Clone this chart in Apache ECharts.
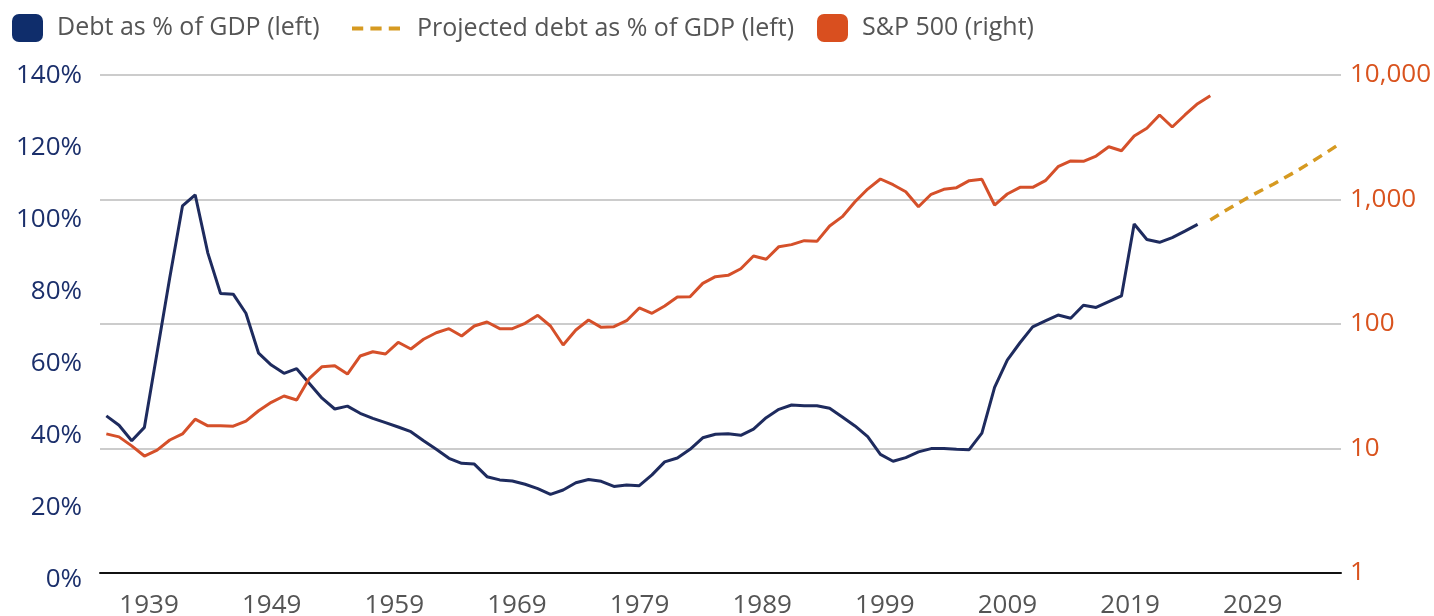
<!DOCTYPE html>
<html>
<head>
<meta charset="utf-8">
<script src="https://cdn.jsdelivr.net/npm/echarts@6/dist/echarts.min.js"></script>
<style>
  html, body { margin: 0; padding: 0; background: #fff; }
  #chart { width: 1434px; height: 616px; }
</style>
</head>
<body>
<div id="chart"></div>
<script>
// debt held by public, % of GDP (left axis), one value per year from 1939
var debtStart = 1939;
var debtVals = [
  45.6, 43.0, 38.7, 42.4, 63.2, 84.0, 103.9, 107.0, 90.8, 79.6,
  79.4, 74.1, 63.0, 59.7, 57.4, 58.7, 54.6, 50.5, 47.5, 48.3,
  46.3, 44.9, 43.7, 42.5, 41.2, 38.7, 36.3, 33.8, 32.4, 32.2,
  28.7, 27.8, 27.5, 26.6, 25.4, 23.8, 25.0, 27.0, 27.9, 27.4,
  26.0, 26.4, 26.2, 29.2, 32.8, 33.9, 36.3, 39.5, 40.5, 40.6,
  40.2, 41.9, 45.1, 47.4, 48.6, 48.4, 48.4, 47.7, 45.3, 42.8,
  39.8, 34.9, 33.0, 34.0, 35.6, 36.5, 36.5, 36.3, 36.2, 40.8,
  53.5, 61.1, 65.9, 70.3, 72.0, 73.6, 72.7, 76.3, 75.7, 77.3,
  78.9, 98.9, 94.6, 93.8, 95.1, 96.9, 98.8
];
// projected debt, % of GDP, from 2026
var projStart = 2026;
var projVals = [100.0, 102.2, 104.3, 106.3, 108.2, 110.0, 112.0, 114.0, 116.2, 118.4, 120.7];
// S&P 500 level (right, log axis), from 1939
var spxStart = 1939;
var spxVals = [
  13.1, 12.4, 10.5, 8.7, 9.7, 11.7, 13.1, 17.2, 15.2, 15.2,
  15.1, 16.6, 20.1, 23.5, 26.4, 24.5, 36.6, 45.4, 46.3, 39.6,
  55.3, 59.9, 57.4, 71.3, 63.0, 75.4, 85.1, 91.7, 80.1, 96.4,
  103.8, 91.7, 91.7, 101.2, 117.4, 96.4, 67.8, 89.5, 107.7, 94.0,
  95.2, 106.3, 134.5, 121.9, 139.6, 164.9, 165.7, 212, 240, 246,
  278, 352, 331, 418, 434, 467, 461, 612, 728, 960,
  1213, 1461, 1315, 1155, 875, 1101, 1208, 1245, 1417, 1453,
  903, 1107, 1253, 1253, 1417, 1835, 2039, 2026, 2235, 2655,
  2466, 3236, 3733, 4775, 3822, 4775, 5885, 6823
];
var yearTicks = [1939, 1949, 1959, 1969, 1979, 1989, 1999, 2009, 2019, 2029];

function pairs(start, vals) {
  return vals.map(function (v, i) { return [start + i, v]; });
}

var font = 'Open Sans';
var navy = '#1e2b5e';
var orange = '#d5502a';
var gold = '#d69a21';
var xMin = 1938.5, xMax = 2036.3;

var chart = echarts.init(document.getElementById('chart'));
var option = {
  animation: false,
  // grid 0: S&P log axis + x axis line; grid 1: debt % axis (its labels sit a bit lower in the original)
  grid: [
    { left: 100, right: 93, top: 75, bottom: 43, outerBoundsMode: 'none' },
    { left: 100, right: 93, top: 76, bottom: 36, outerBoundsMode: 'none' }
  ],
  legend: [
    {
      left: 12, top: 14, padding: 0, itemWidth: 31, itemHeight: 28,
      data: [{ name: 'Debt as % of GDP (left)', icon: 'roundRect', itemStyle: { color: '#0f2d6b', borderWidth: 0 } }],
      textStyle: { fontFamily: font, fontSize: 25, color: '#555', padding: [0, 0, 0, 9] }
    },
    {
      left: 352, top: 16, padding: 0, itemWidth: 48, itemHeight: 5,
      data: [{ name: 'Projected debt as % of GDP (left)',
               icon: 'path://M0,0h11v4h-11z M18,0h11v4h-11z M36,0h11v4h-11z',
               itemStyle: { color: gold, borderWidth: 0 } }],
      textStyle: { fontFamily: font, fontSize: 25, color: '#555', padding: [0, 0, 0, 12] }
    },
    {
      left: 817, top: 14, padding: 0, itemWidth: 31, itemHeight: 28,
      data: [{ name: 'S&P 500 (right)', icon: 'roundRect', itemStyle: { color: '#d94f1f', borderWidth: 0 } }],
      textStyle: { fontFamily: font, fontSize: 25, color: '#555', padding: [0, 0, 0, 9] }
    }
  ],
  xAxis: [
    {
      gridIndex: 0, type: 'value', min: xMin, max: xMax, position: 'bottom',
      axisLine: { show: true, onZero: false, lineStyle: { color: '#111', width: 2 } },
      axisTick: { show: false }, axisLabel: { show: false }, splitLine: { show: false }
    },
    {
      gridIndex: 0, type: 'value', min: 1935, max: 2036.2, position: 'bottom',
      axisLine: { show: false }, axisTick: { show: false }, splitLine: { show: false },
      axisLabel: {
        customValues: yearTicks, margin: 20,
        fontFamily: font, fontSize: 26, color: '#555',
        formatter: function (v) { return String(v); }
      }
    },
    {
      gridIndex: 1, type: 'value', min: xMin, max: xMax, show: false
    }
  ],
  yAxis: [
    {
      gridIndex: 1, type: 'value', min: 0, max: 140, interval: 20, position: 'left',
      axisLine: { show: false }, axisTick: { show: false }, splitLine: { show: false },
      axisLabel: { margin: 18, fontFamily: font, fontSize: 26, color: '#1b2f6b', formatter: '{value}%' }
    },
    {
      gridIndex: 0, type: 'log', logBase: 10, min: 1, max: 10000, position: 'right',
      axisLine: { show: false }, axisTick: { show: false },
      splitLine: { show: true, lineStyle: { color: '#cccccc', width: 2 } },
      axisLabel: {
        margin: 9, fontFamily: font, fontSize: 26, color: '#d9531e',
        formatter: function (v) { return Math.round(v).toLocaleString('en-US'); }
      }
    }
  ],
  series: [
    {
      name: 'Debt as % of GDP (left)', type: 'line', xAxisIndex: 2, yAxisIndex: 0,
      data: pairs(debtStart, debtVals), showSymbol: false, color: navy,
      lineStyle: { width: 3, color: navy }
    },
    {
      name: 'Projected debt as % of GDP (left)', type: 'line', xAxisIndex: 2, yAxisIndex: 0,
      data: pairs(projStart, projVals), showSymbol: false, color: gold,
      lineStyle: { width: 3.5, color: gold, type: [10, 7] }
    },
    {
      name: 'S&P 500 (right)', type: 'line', xAxisIndex: 0, yAxisIndex: 1,
      data: pairs(spxStart, spxVals), showSymbol: false, color: orange,
      lineStyle: { width: 3, color: orange }
    }
  ]
};
chart.setOption(option);
</script>
</body>
</html>
